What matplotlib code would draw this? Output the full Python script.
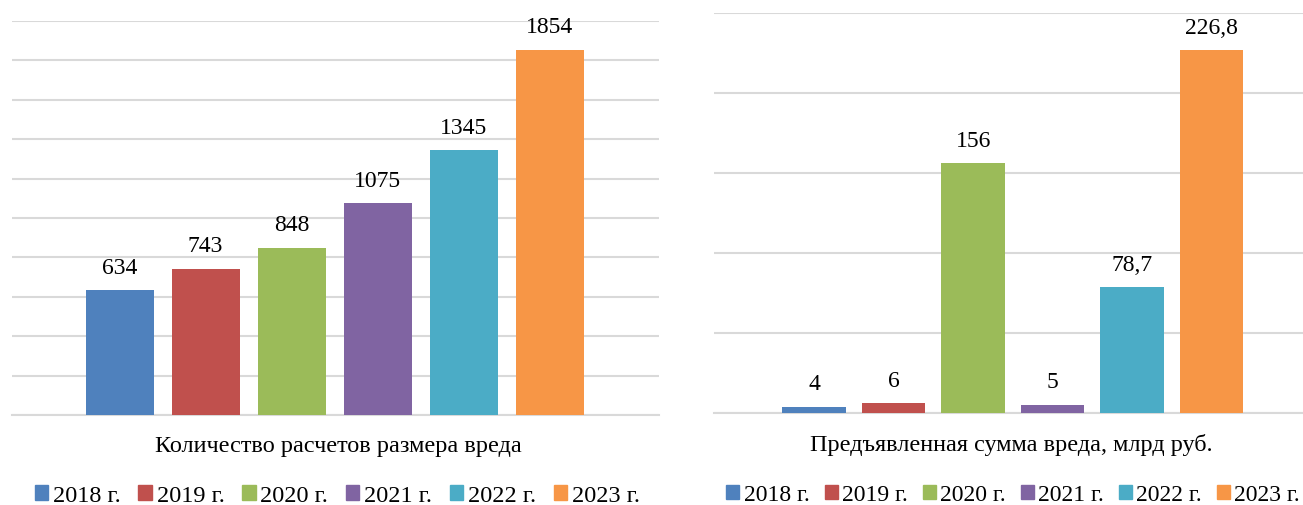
import matplotlib.pyplot as plt
from matplotlib.patches import Patch

# data
years = ['2018 г.', '2019 г.', '2020 г.', '2021 г.', '2022 г.', '2023 г.']
counts = [634, 743, 848, 1075, 1345, 1854]
count_labels = ['634', '743', '848', '1075', '1345', '1854']
amounts = [4, 6, 156, 5, 78.7, 226.8]
amount_labels = ['4', '6', '156', '5', '78,7', '226,8']
colors = ['#4F81BD', '#C0504D', '#9BBB59', '#8064A2', '#4BACC6', '#F79646']

plt.rcParams['font.family'] = ['Liberation Serif', 'DejaVu Serif']

fig = plt.figure(figsize=(13.03, 5.06), dpi=100)


def draw_panel(ax, values, labels, ymax, step, xlim, bar_w, title, cx, leg_cx,
               leg_fs, leg_sp):
    x = list(range(len(values)))
    ax.bar(x, values, width=bar_w, color=colors, zorder=3)
    for xi, v, lab in zip(x, values, labels):
        ax.annotate(lab, (xi, v), xytext=(0, 9), textcoords='offset points',
                    ha='center', va='bottom', fontsize=17)
    ax.set_ylim(0, ymax)
    ax.set_xlim(*xlim)
    ax.set_yticks(range(0, ymax + 1, step))
    ax.grid(axis='y', color='#D9D9D9', linewidth=1.5, zorder=0)
    ax.tick_params(left=False, bottom=False, labelleft=False, labelbottom=False)
    for side in ['top', 'right', 'left']:
        ax.spines[side].set_visible(False)
    ax.spines['bottom'].set_color('#D9D9D9')
    ax.spines['bottom'].set_linewidth(1.5)
    ax.text(cx, -0.077, title, transform=ax.transAxes,
            ha='center', va='center', fontsize=17.5)
    handles = [Patch(color=c, label=y) for c, y in zip(colors, years)]
    ax.legend(handles=handles, loc='center', bbox_to_anchor=(leg_cx, -0.205),
              ncol=6, frameon=False, fontsize=leg_fs, handlelength=0.55,
              handleheight=0.55, handletextpad=0.2, columnspacing=leg_sp,
              borderpad=0)


ax1 = fig.add_axes([12 / 1303, 90 / 506, 647 / 1303, 394 / 506])
draw_panel(ax1, counts, count_labels, 2000, 200, (-1.25, 6.27), 0.79,
           'Количество расчетов размера вреда', 0.505, 0.503, 17.5, 0.73)

ax2 = fig.add_axes([714 / 1303, 92 / 506, 589 / 1303, 400 / 506])
draw_panel(ax2, amounts, amount_labels, 250, 50, (-1.26, 6.15), 0.8,
           'Предъявленная сумма вреда, млрд руб.', 0.505, 0.508, 17, 0.62)

fig.savefig('out.png', dpi=100)
